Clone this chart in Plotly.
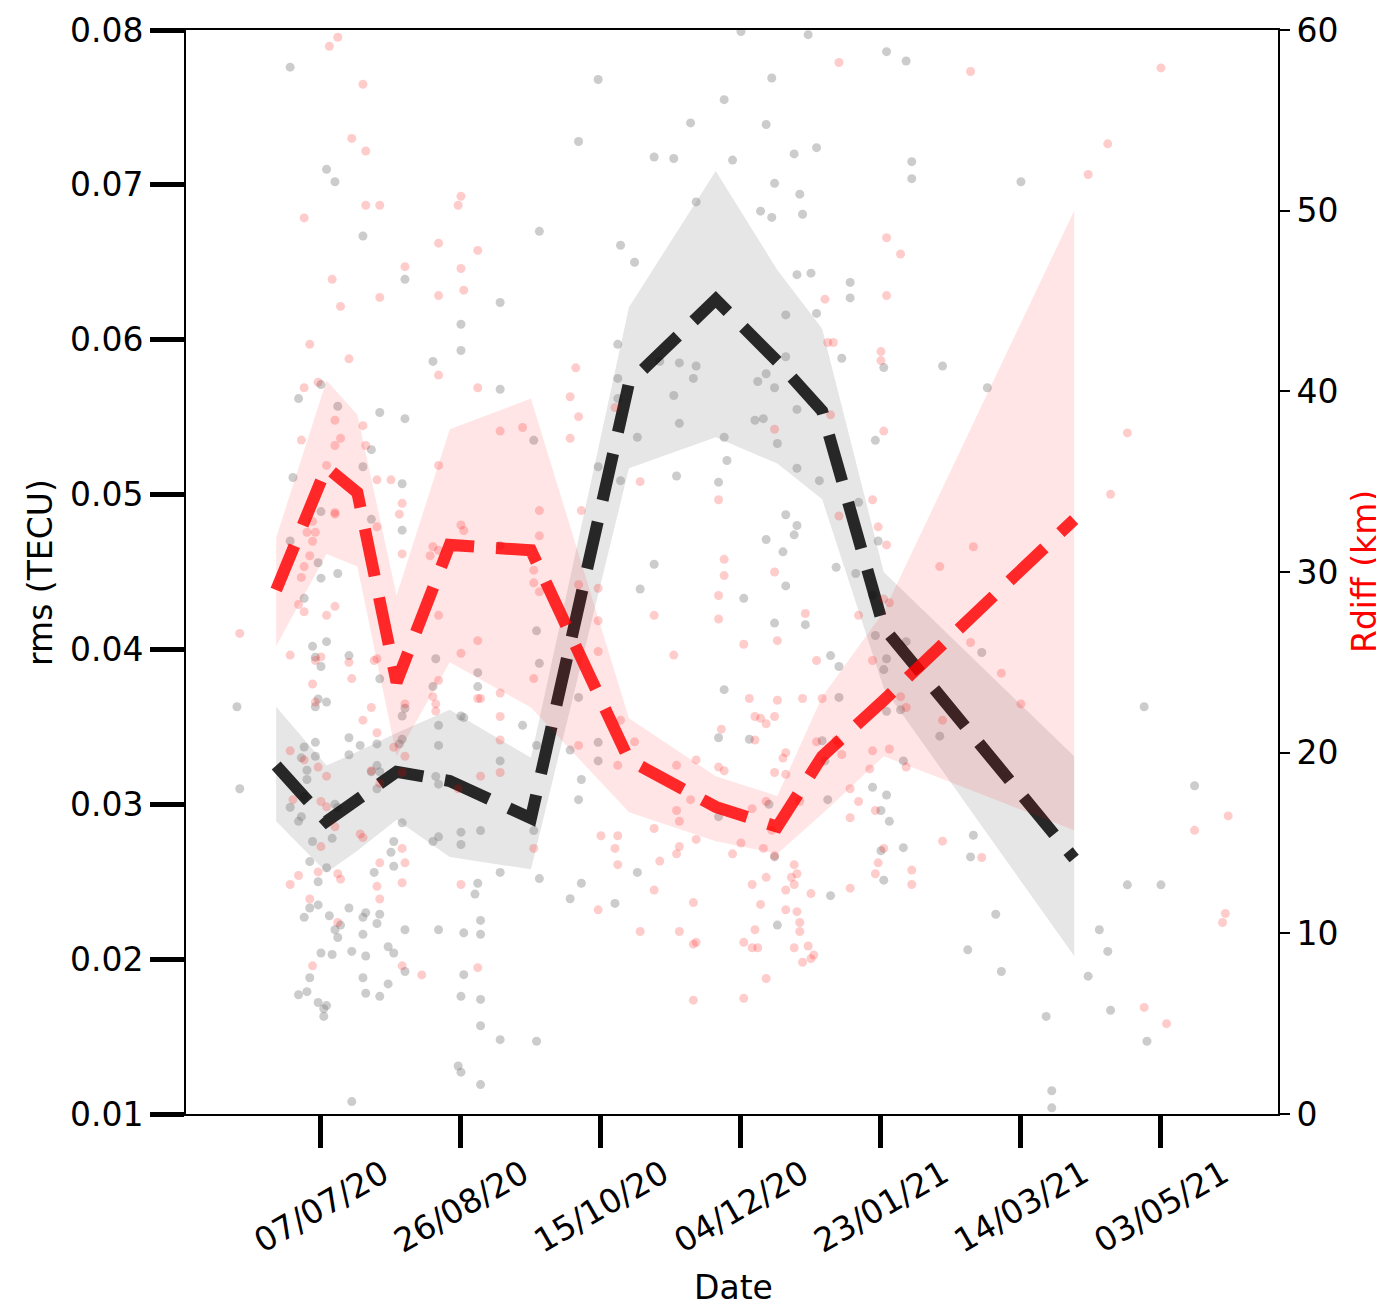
import pandas as pd
import plotly.graph_objects as go

BASE_DATE = pd.Timestamp("2020-07-07")

# ---- binned curves (day offsets from BASE_DATE) ----
node_day = [-16, 2, 13, 27, 46, 75, 110, 141, 163, 179, 201, 269]
rms_mean = [0.0325, 0.0289, 0.0303, 0.0321, 0.0315, 0.0291, 0.0572, 0.0626, 0.0586, 0.0554, 0.0414, 0.0265]
rms_upper = [0.0363, 0.0325, 0.0334, 0.0346, 0.0361, 0.0330, 0.0621, 0.0709, 0.0645, 0.0607, 0.0450, 0.0331]
rms_lower = [0.0289, 0.0256, 0.0270, 0.0290, 0.0266, 0.0258, 0.0517, 0.0537, 0.0520, 0.0497, 0.0375, 0.0202]
rdiff_mean = [29.0, 35.8, 34.4, 23.9, 31.5, 31.2, 19.6, 17.0, 15.9, 19.8, 22.9, 32.9]
rdiff_upper = [31.9, 40.6, 38.7, 28.7, 37.9, 39.6, 21.9, 18.7, 17.6, 23.1, 27.8, 50.0]
rdiff_lower = [25.9, 31.0, 30.3, 19.8, 25.0, 22.5, 16.7, 15.1, 14.4, 16.6, 19.8, 15.7]

# ---- individual rms samples ----
grey_day = [-11, 2, 5, 15, 78, 30, 64, 50, 50, 40, 64, 0,
            -8, 6, 21, 30, 18, 76, -10, 15, 29, 0, 18, 29, -11, -1, 0, 6, -6, 64, 77, 2, -3, -2, 0, 10,
            21, 41, 56, 56, 78, 40, -1, 2, -2, -30, 30, 29, 42, 50, 51, 72, 10, 14, 20, 29, 28, 42, -2, -6, 77,
            -29, -7, -2, -5, -5, -6, -11, -7, -8, -3, 4, 5, 6, 20, 18, 21, 20, 41, 42, 64, 10, 29, 26, 25, 26,
            40, 42, 50, 50, 57, 76, -4, 2, -1, 19, 64, 78, 56, 55, -1, -4, -6, 3, 10, 16, 15, 21, 20, 7, 5, 6,
            15, 30, 42, 51, 57, 57, 0, 4, 11, 16, 24, 26, 30, -4, 15, 24, 51, -8, -5, 16, 21, -1, 2, 1, 1, 50,
            57, 57, 64, 77, 49, 50, 57, 11,
            150, 174, 202, 209, 99, 161, 144, 132, 159, 92, 119, 126, 147, 169, 177, 211, 211, 162, 171, 134,
            157, 161, 172, 107, 112, 170, 175, 189, 189, 177, 166, 106, 128, 134, 166, 186, 201, 106, 133, 159,
            156, 162, 121,
            106, 126, 128, 155, 158, 170, 163, 144, 113, 198, 145, 99, 107, 127, 142, 170, 178, 192, 166, 170,
            169, 159, 165, 199, 119, 184, 191, 114, 151, 166, 197, 162, 173, 198, 209, 202, 201, 182, 185, 92,
            144, 185, 202, 207, 99, 142, 153, 179, 89,
            99, 93, 92, 160, 142, 113, 93, 89, 105, 162, 163, 181, 197, 202, 200, 203, 208, 200, 201, 182, 208, 180,
            250, 222, 238, 236, 294, 221, 312, 233, 232, 288, 300, 241, 278, 281, 231, 243, 274, 282, 259, 295, 261, 261]
grey_rms = [0.0776, 0.0710, 0.0702, 0.0667, 0.0670, 0.0639, 0.0624, 0.0610, 0.0593, 0.0586, 0.0568, 0.0571,
            0.0562, 0.0557, 0.0553, 0.0549, 0.0529, 0.0535, 0.0511, 0.0518, 0.0507, 0.0489, 0.0484, 0.0477,
            0.0470, 0.0456, 0.0446, 0.0449, 0.0433, 0.0467, 0.0412, 0.0405, 0.0402, 0.0395, 0.0389, 0.0396,
            0.0381, 0.0394, 0.0385, 0.0376, 0.0391, 0.0376, 0.0368, 0.0366, 0.0363, 0.0363, 0.0362, 0.0357,
            0.0351, 0.0357, 0.0356, 0.0351, 0.0343, 0.0338, 0.0339, 0.0342, 0.0339, 0.0338, 0.0340, 0.0337, 0.0338,
            0.0310, 0.0330, 0.0331, 0.0322, 0.0316, 0.0305, 0.0298, 0.0292, 0.0289, 0.0276, 0.0278, 0.0300,
            0.0298, 0.0325, 0.0321, 0.0321, 0.0310, 0.0318, 0.0313, 0.0328, 0.0332, 0.0288, 0.0276, 0.0269,
            0.0260, 0.0276, 0.0279, 0.0274, 0.0282, 0.0283, 0.0283, 0.0263, 0.0259, 0.0250, 0.0256, 0.0256,
            0.0252, 0.0249, 0.0242, 0.0235, 0.0233, 0.0227, 0.0228, 0.0233, 0.0230, 0.0227, 0.0229, 0.0223,
            0.0222, 0.0219, 0.0214, 0.0216, 0.0219, 0.0219, 0.0217, 0.0225, 0.0216, 0.0204, 0.0203, 0.0205,
            0.0202, 0.0208, 0.0204, 0.0192, 0.0188, 0.0188, 0.0184, 0.0190, 0.0177, 0.0179, 0.0178, 0.0176,
            0.0172, 0.0170, 0.0168, 0.0163, 0.0176, 0.0174, 0.0157, 0.0148, 0.0147, 0.0131, 0.0127, 0.0119, 0.0108,
            0.0799, 0.0797, 0.0786, 0.0780, 0.0768, 0.0769, 0.0755, 0.0740, 0.0739, 0.0728, 0.0718, 0.0717,
            0.0716, 0.0720, 0.0724, 0.0715, 0.0704, 0.0701, 0.0694, 0.0689, 0.0683, 0.0679, 0.0681, 0.0661,
            0.0650, 0.0642, 0.0643, 0.0637, 0.0627, 0.0617, 0.0616, 0.0597, 0.0585, 0.0583, 0.0589, 0.0588,
            0.0582, 0.0575, 0.0575, 0.0578, 0.0573, 0.0569, 0.0586,
            0.0562, 0.0564, 0.0546, 0.0548, 0.0549, 0.0555, 0.0533, 0.0537, 0.0537, 0.0535, 0.0522, 0.0518,
            0.0509, 0.0512, 0.0508, 0.0517, 0.0509, 0.0495, 0.0487, 0.0480, 0.0474, 0.0471, 0.0463, 0.0470,
            0.0455, 0.0453, 0.0449, 0.0439, 0.0433, 0.0441, 0.0435, 0.0417, 0.0416, 0.0409, 0.0405, 0.0394,
            0.0387, 0.0396, 0.0389, 0.0369, 0.0374, 0.0369, 0.0360, 0.0361, 0.0340, 0.0343, 0.0342, 0.0341, 0.0335,
            0.0328, 0.0316, 0.0303, 0.0300, 0.0292, 0.0256, 0.0249, 0.0239, 0.0236, 0.0266, 0.0222, 0.0303,
            0.0311, 0.0306, 0.0296, 0.0289, 0.0272, 0.0270, 0.0251, 0.0241, 0.0328, 0.0328,
            0.0702, 0.0583, 0.0569, 0.0398, 0.0363, 0.0344, 0.0312, 0.0280, 0.0266, 0.0248, 0.0248, 0.0229,
            0.0219, 0.0205, 0.0206, 0.0192, 0.0189, 0.0167, 0.0163, 0.0147, 0.0115, 0.0104]

# ---- individual Rdiff samples ----
red_day = [6, 3, 15, 11, 16, 16, 21, -6, 50, 49, 42, 56, 30, 50, 4, 21, 42, 51, 7, -4, 10, 42, -6, 56, -1,
           5, 15, -7, 7, 5, 16, 2, 20, 25, 42, 64, 72, 29, 28, 5, 5, -3, -5, -2, -3, 20, 50, 51, 78, 78, -4,
           29, 40, 39, 42, -6, -7, 76, 76, 78, -8, -6, 5, 2, -29, 42, 56, 50, -11, 0, -2, 10, 11, 20, 19, -3,
           42, 64, 56, 57, 40, 41, 41, 18, 30, -2, 15, 20, 64, 64, 76, -11, 26,
           -1, 2, -6, 30, 18, 21, 29, 49, 57, 64, -10, 0, 2, 5, 14, 15, 0, 29, 76, 21, 30, -8, -11, -1, 6, 7,
           20, 29, 50, -4, 21, 6, -3, 29, 36, 56,
           185, 202, 207, 202, 180, 181, 183, 200, 200, 91,
           89, 92, 105, 89, 162, 182, 201, 114, 142, 93, 185, 197, 199, 202, 144, 144, 162, 142, 99, 92, 119,
           142, 99, 173, 192, 201, 203, 151, 163, 126, 99, 177, 197, 153, 163, 172, 179, 207, 209, 155, 157,
           159, 162, 107, 143, 112, 92, 155, 177, 184, 185, 197, 203, 166,
           106, 127, 134, 142, 144, 165, 162, 166, 186, 196, 209, 189, 192, 198, 189, 171, 159, 154, 127, 128,
           132, 161, 100, 106, 105, 106, 119, 134, 128, 127, 121, 150, 147, 158, 162, 169, 170, 168, 169, 159,
           154, 166, 175, 189, 201, 199, 198, 211, 211, 119, 99, 133, 157, 166, 170, 171, 171, 155, 114, 128,
           133, 134, 151, 154, 156, 169, 174, 176, 175, 172, 159, 133, 151,
           232, 300, 281, 274, 288, 282, 233, 221, 232, 243, 250, 222, 324, 312, 222, 236, 323, 322, 294, 302]
red_km = [59.6, 59.1, 57.0, 54.0, 53.3, 50.3, 50.3, 49.6, 50.8, 50.3, 48.2, 47.8, 46.9, 46.8, 46.2, 45.2,
          45.3, 45.6, 44.7, 42.6, 41.8, 40.9, 40.2, 40.2, 40.5,
          38.4, 38.1, 37.3, 37.4, 37.0, 37.0, 35.9, 35.1, 35.1, 35.9, 37.8, 38.0, 33.8, 33.2, 33.3, 33.2,
          32.8, 32.2, 32.2, 31.7, 32.5, 32.6, 32.3, 33.4, 32.0, 30.9, 31.0, 31.4, 30.9, 31.2, 30.3, 29.7,
          30.1, 29.4, 28.9, 28.2, 27.8, 28.1, 27.6, 26.6, 27.6, 26.2, 25.5, 25.4, 25.3, 25.1, 25.0, 24.1,
          25.2, 25.1, 23.8, 24.0, 23.3, 23.0, 23.0, 23.1, 22.7, 22.3, 22.5, 22.7, 22.8, 21.8, 21.1, 22.0,
          20.7, 24.1, 20.1, 20.3,
          19.2, 18.7, 19.6, 19.8, 19.0, 18.3, 18.9, 18.0, 18.7, 18.9, 17.4, 17.3, 17.0, 15.9, 15.5, 15.3,
          14.8, 14.7, 14.7, 13.9, 13.9, 13.2, 12.7, 13.4, 13.3, 13.0, 12.6, 12.8, 12.7, 11.9, 11.9, 10.6,
          8.2, 8.2, 7.7, 8.1,
          58.2, 48.5, 47.6, 45.3, 45.1, 42.7, 42.7, 42.2, 41.7, 41.3,
          39.7, 38.6, 39.1, 37.4, 37.9, 38.7, 37.8, 35.0, 34.0, 33.4, 33.1, 34.0, 32.5, 31.5, 30.7, 29.8,
          30.0, 28.7, 29.1, 29.3, 27.6, 27.4, 27.3, 27.7, 27.6, 28.5, 28.3, 26.0, 26.2, 25.4, 25.6, 25.1,
          25.1, 23.0, 22.9, 23.0, 23.0, 23.1, 22.5, 22.0, 21.9, 21.6, 22.0, 21.8, 21.3, 20.6, 20.4, 20.7,
          20.6, 20.7, 20.5, 20.1, 20.2, 20.0,
          19.3, 19.3, 19.6, 19.2, 19.0, 19.7, 18.9, 18.8, 19.9, 19.1, 19.2, 18.0, 17.3, 16.8, 16.4, 17.3,
          17.3, 16.9, 16.8, 16.2, 17.4, 15.7, 15.4, 15.4, 14.7, 13.8, 15.8, 15.2, 14.8, 14.4, 14.0, 15.0,
          14.4, 14.7, 14.3, 13.8, 13.3, 13.1, 12.7, 13.1, 12.7, 12.4, 12.2, 12.5, 14.7, 13.9, 13.3, 13.5,
          12.7, 12.4, 11.3, 11.7, 11.6, 11.3, 11.2, 10.6, 10.1, 10.2, 10.1, 10.1, 9.4, 9.5, 9.5, 9.2, 9.2,
          9.2, 9.3, 8.8, 8.6, 8.4, 7.5, 6.3, 6.4,
          57.7, 57.9, 53.7, 52.0, 37.7, 34.3, 31.4, 30.3, 26.1, 24.4, 22.7, 21.8, 16.5, 15.7, 15.1, 14.2,
          11.1, 10.6, 5.9, 5.0]

# ---- axes ----
tick_dates = ["2020-07-07", "2020-08-26", "2020-10-15", "2020-12-04", "2021-01-23", "2021-03-14", "2021-05-03"]
rms_ticks = [0.01, 0.02, 0.03, 0.04, 0.05, 0.06, 0.07, 0.08]
km_ticks = [0, 10, 20, 30, 40, 50, 60]
x_range_days = [-48.2, 341.8]


def to_dates(days):
    return [BASE_DATE + pd.Timedelta(days=d) for d in days]


node_dates = to_dates(node_day)
band_x = node_dates + node_dates[::-1]

FONT = "DejaVu Sans"
FS = 33

fig = go.Figure()

# black (rms) layer
fig.add_trace(go.Scatter(x=to_dates(grey_day), y=grey_rms, mode="markers",
                         marker=dict(size=9, color="rgba(128,128,128,0.4)", line=dict(width=0)),
                         yaxis="y", hoverinfo="skip"))
fig.add_trace(go.Scatter(x=band_x, y=rms_upper + rms_lower[::-1], mode="lines", fill="toself",
                         fillcolor="rgba(128,128,128,0.2)", line=dict(width=0), yaxis="y", hoverinfo="skip"))
fig.add_trace(go.Scatter(x=node_dates, y=rms_mean, mode="lines",
                         line=dict(color="rgba(0,0,0,0.83)", width=12, dash="48px,22px"), yaxis="y"))

# red (Rdiff) layer
fig.add_trace(go.Scatter(x=to_dates(red_day), y=red_km, mode="markers",
                         marker=dict(size=9, color="rgba(255,0,0,0.2)", line=dict(width=0)),
                         yaxis="y2", hoverinfo="skip"))
fig.add_trace(go.Scatter(x=band_x, y=rdiff_upper + rdiff_lower[::-1], mode="lines", fill="toself",
                         fillcolor="rgba(255,0,0,0.1)", line=dict(width=0), yaxis="y2", hoverinfo="skip"))
fig.add_trace(go.Scatter(x=node_dates, y=rdiff_mean, mode="lines",
                         line=dict(color="rgba(255,0,0,0.83)", width=12, dash="48px,22px"), yaxis="y2"))

x_range = [BASE_DATE + pd.Timedelta(days=d) for d in x_range_days]

# page body has an 8px margin: figure is sized so the plot area lands where the reference has it
fig.update_layout(
    width=1376, height=1298,
    margin=dict(l=178, r=106, t=22, b=192, autoexpand=False),
    plot_bgcolor="white", paper_bgcolor="white",
    showlegend=False,
    font=dict(family=FONT, size=FS, color="black"),
    xaxis=dict(type="date", range=x_range, tickvals=tick_dates, showticklabels=False,
               ticks="outside", ticklen=32, tickwidth=5, tickcolor="black",
               showline=True, linecolor="black", linewidth=2, mirror=True,
               showgrid=False, zeroline=False, automargin=False),
    yaxis=dict(range=[0.01, 0.08], tickvals=rms_ticks, ticktext=[f"{v:.2f}" for v in rms_ticks],
               ticks="outside", ticklen=34, tickwidth=5, tickcolor="black",
               tickfont=dict(size=FS, family=FONT, color="black"),
               showline=True, linecolor="black", linewidth=2,
               showgrid=False, zeroline=False, automargin=False),
    yaxis2=dict(range=[0, 60], tickvals=km_ticks, ticktext=[str(v) for v in km_ticks],
                overlaying="y", side="right", anchor="x",
                ticks="outside", ticklen=10, tickwidth=2, tickcolor="black",
                tickfont=dict(size=FS, family=FONT, color="black"),
                showline=True, linecolor="black", linewidth=2,
                showgrid=False, zeroline=False, automargin=False),
)

annotations = []
for d in tick_dates:
    annotations.append(dict(x=d, xref="x", y=-0.085, yref="paper", text=pd.Timestamp(d).strftime("%d/%m/%y"),
                            textangle=-30, showarrow=False, xanchor="center", yanchor="middle",
                            font=dict(size=FS, family=FONT, color="black")))
annotations.append(dict(x=0.501, xref="paper", y=-0.1596, yref="paper", text="Date", showarrow=False,
                        xanchor="center", yanchor="middle", font=dict(size=FS, family=FONT, color="black")))
annotations.append(dict(x=-0.1337, xref="paper", y=0.5, yref="paper", text="rms (TECU)", showarrow=False,
                        textangle=-90, xanchor="center", yanchor="middle",
                        font=dict(size=FS, family=FONT, color="black")))
annotations.append(dict(x=1.0788, xref="paper", y=0.5, yref="paper", text="Rdiff (km)", showarrow=False,
                        textangle=-90, xanchor="center", yanchor="middle",
                        font=dict(size=FS, family=FONT, color="red")))
fig.update_layout(annotations=annotations)

fig.write_html("out.html")
